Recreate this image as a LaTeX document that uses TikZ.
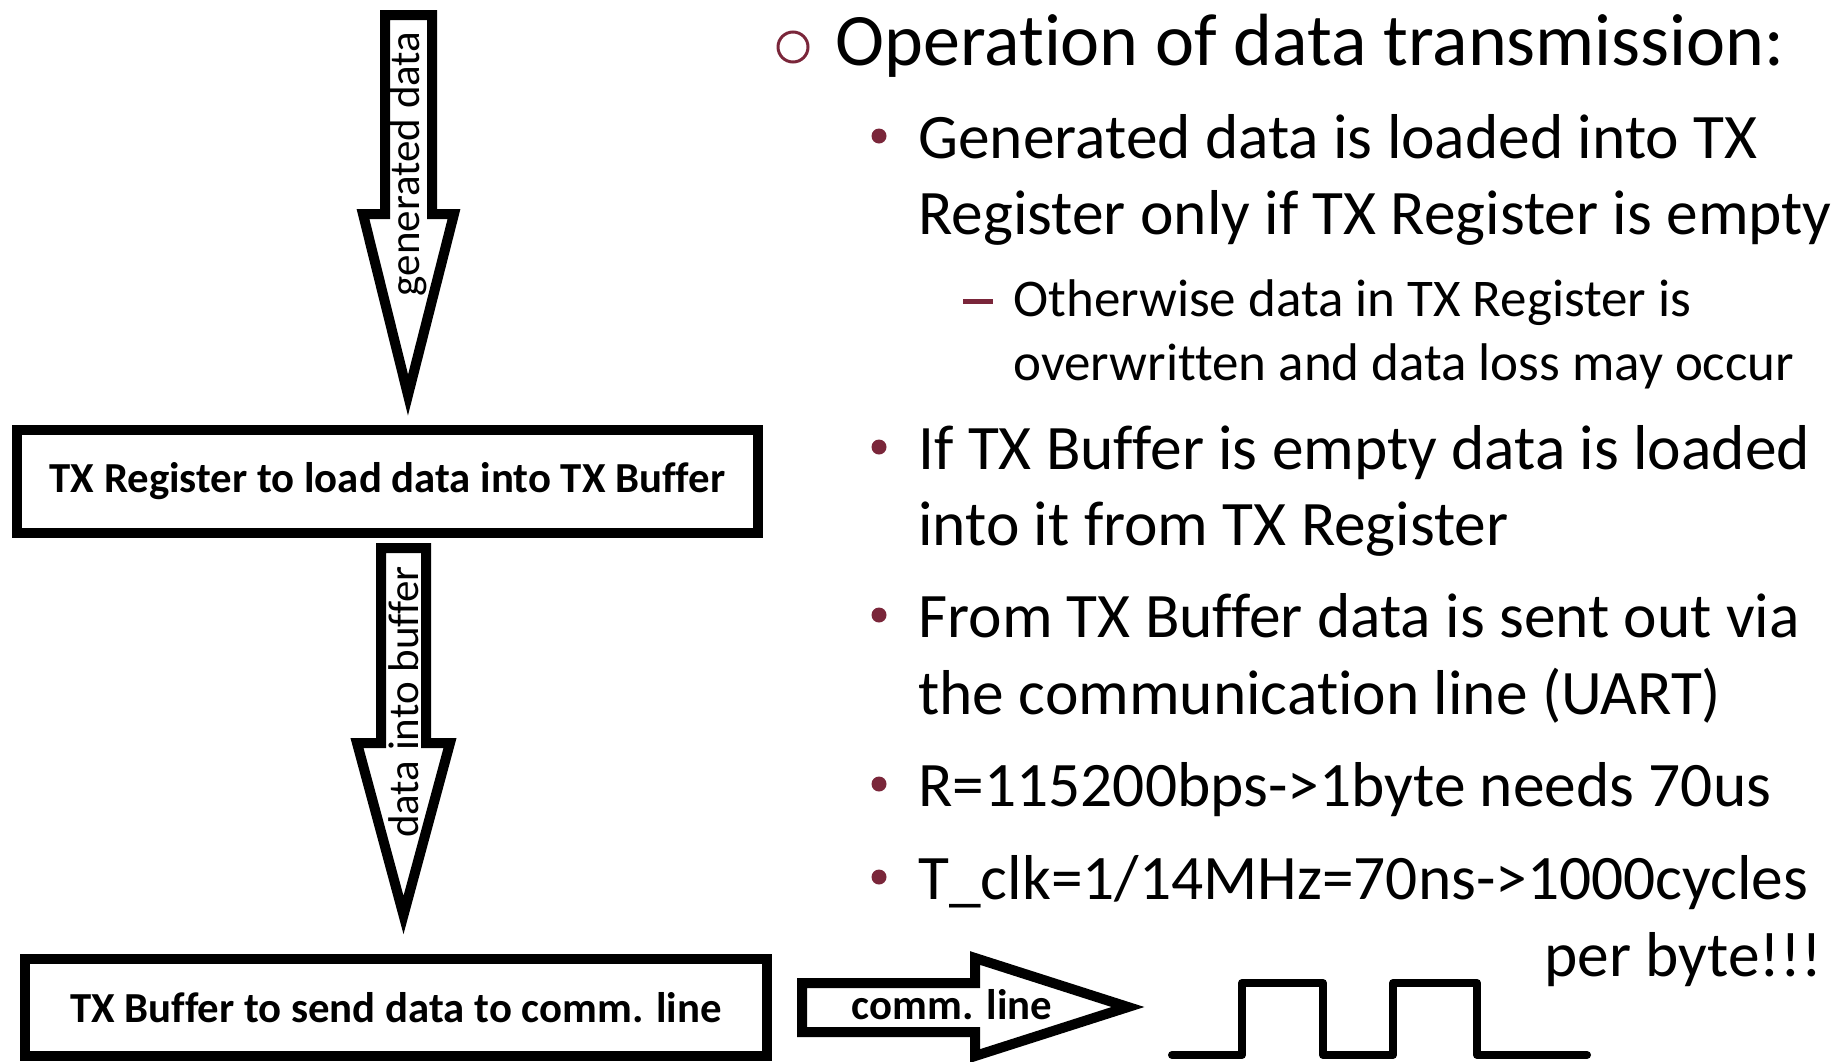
\documentclass[tikz,border=0pt]{standalone}
\usepackage{fontspec}
\setmainfont{Carlito}[Ligatures={TeX,NoCommon}]
\usepackage{tikz}
\usetikzlibrary{positioning}
\definecolor{bulletred}{RGB}{122,38,58}

\begin{document}
\begin{tikzpicture}
  [x=0.5pt,y=-0.5pt]
      \tikzstyle{box_style} = [draw=black, line width=4.75pt, inner sep=0pt, font=\bfseries\fontsize{21.4}{25}\selectfont]
      \tikzstyle{arrow_style} = [draw=black, fill=white, line width=5pt, miter limit=10]
      \tikzstyle{arrow_text} = [font=\fontsize{21.5}{25}\selectfont, rotate=90, inner sep=0pt]
      \tikzstyle{title_text} = [anchor=base west, inner sep=0pt, font=\fontsize{37}{44}\selectfont]
      \tikzstyle{item_text} = [anchor=base west, inner sep=0pt, font=\fontsize{31.7}{38}\selectfont]
      \tikzstyle{sub_text} = [anchor=base west, inner sep=0pt, font=\fontsize{26.5}{32}\selectfont]
      \tikzstyle{dot_style} = [circle, fill=bulletred, inner sep=0pt, minimum size=7.5pt]
  \useasboundingbox (0,0) rectangle (1837,1061);
  % left: the flow
  \draw[arrow_style] (385,15) -- (385,214) -- (363,214) -- (408,395) -- (454,214) -- (432,214) -- (432,15) -- cycle;
  \node[arrow_text] (gen) at (408,164) {generated data};
  \node[box_style, minimum width=370.5pt, minimum height=51.5pt] (reg) at (387.5,481.5) {TX Register to load data into TX Buffer};
  \draw[arrow_style] (381,548) -- (381,743) -- (357,743) -- (403.5,915) -- (450,743) -- (426,743) -- (426,548) -- cycle;
  \node[arrow_text] (into) at (403.5,702) {data into buffer};
  \node[box_style, minimum width=371pt, minimum height=48.5pt] (buf) at (396,1007.5) {TX Buffer to send data to comm. line};
  \draw[arrow_style] (802,983) -- (975,983) -- (975,958) -- (1128,1007) -- (975,1056) -- (975,1032) -- (802,1032) -- cycle;
  \node[font=\bfseries\fontsize{21.4}{25}\selectfont, inner sep=0pt] (comm) at (952,1005) {comm. line};
  \draw[line width=4pt, line cap=round, line join=round] (1172,1055) -- (1242,1055) -- (1242,983) -- (1323,983) -- (1323,1055)
    -- (1393,1055) -- (1393,983) -- (1477,983) -- (1477,1055) -- (1587,1055);
  % right: the bullets
  \node[circle, draw=bulletred, line width=1.5pt, inner sep=0pt, minimum size=15pt] (ring) at (793,47) {};
  \node[title_text] (title) at (835,65) {Operation of data transmission:};
  \node[dot_style] (d1) at (879,136) {};
  \node[item_text] (i1a) at (918,158) {Generated data is loaded into TX};
  \node[item_text] (i1b) at (918,234) {Register only if TX Register is empty};
  \draw[bulletred, line width=2.5pt] (963,301) -- (993,301);
  \node[sub_text] (s1a) at (1013,316) {Otherwise data in TX Register is};
  \node[sub_text] (s1b) at (1013,380) {overwritten and data loss may occur};
  \node[dot_style] (d2) at (879,447) {};
  \node[item_text] (i2a) at (918,469) {If TX Buffer is empty data is loaded};
  \node[item_text] (i2b) at (918,545) {into it from TX Register};
  \node[dot_style] (d3) at (879,615) {};
  \node[item_text] (i3a) at (918,637) {From TX Buffer data is sent out via};
  \node[item_text] (i3b) at (918,714) {the communication line (UART)};
  \node[dot_style] (d4) at (879,784) {};
  \node[item_text] (i4) at (918,806) {R=115200bps->1byte needs 70us};
  \node[dot_style] (d5) at (879,877) {};
  \node[item_text] (i5a) at (918,899) {T\_clk=1/14MHz=70ns->1000cycles};
  \node[item_text, anchor=base east] (i5b) at (1822,976) {per byte!!!};
\end{tikzpicture}
\end{document}
